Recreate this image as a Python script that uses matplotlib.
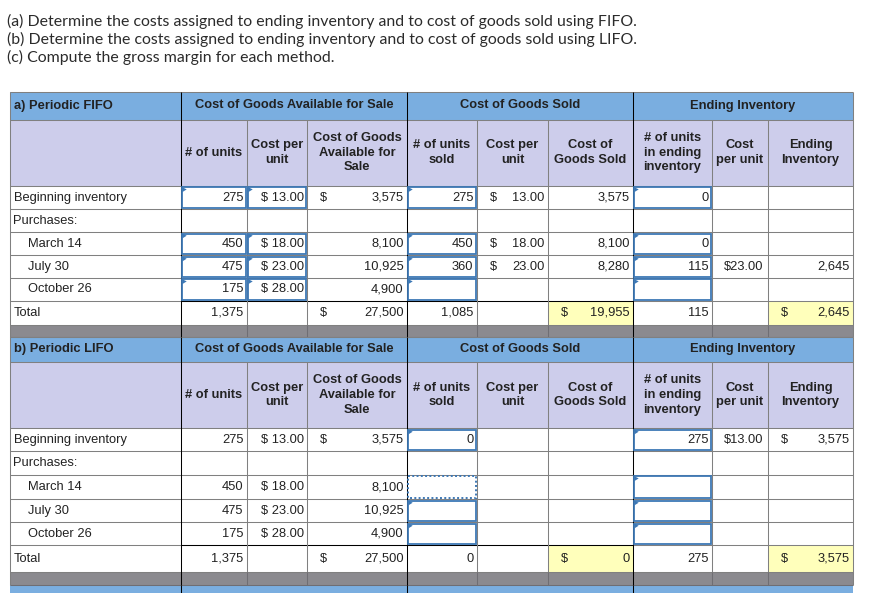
import matplotlib.pyplot as plt
from matplotlib.patches import Rectangle, Polygon

# ---- data ----
intro_lines = [
    "(a) Determine the costs assigned to ending inventory and to cost of goods sold using FIFO.",
    "(b) Determine the costs assigned to ending inventory and to cost of goods sold using LIFO.",
    "(c) Compute the gross margin for each method.",
]
row_labels = ["Beginning inventory", "Purchases:", "March 14", "July 30", "October 26", "Total"]
group_titles = ["Cost of Goods Available for Sale", "Cost of Goods Sold", "Ending Inventory"]
col_headers = ["# of units", "Cost per\nunit", "Cost of Goods\nAvailable for\nSale",
               "# of units\nsold", "Cost per\nunit", "Cost of\nGoods Sold",
               "# of units\nin ending\ninventory", "Cost\nper unit", "Ending\nInventory"]

units_available = [275, None, 450, 475, 175, 1375]
unit_cost = [13.00, None, 18.00, 23.00, 28.00, None]
goods_available = [3575, None, 8100, 10925, 4900, 27500]

fifo_units_sold = [275, None, 450, 360, None, 1085]
fifo_sold_cost = [13.00, None, 18.00, 23.00, None, None]
fifo_cogs = [3575, None, 8100, 8280, None, 19955]
fifo_end_units = [0, None, 0, 115, None, 115]
fifo_end_cost = [None, None, None, 23.00, None, None]
fifo_end_inv = [None, None, None, 2645, None, 2645]

lifo_units_sold = [0, None, None, None, None, 0]
lifo_sold_cost = [None, None, None, None, None, None]
lifo_cogs = [None, None, None, None, None, 0]
lifo_end_units = [275, None, None, None, None, 275]
lifo_end_cost = [13.00, None, None, None, None, None]
lifo_end_inv = [3575, None, None, None, None, 3575]

# ---- layout (pixels) ----
BLUE = "#7aaee0"
LAV = "#cdcdeb"
GREY_BAND = "#8b8a8f"
YELLOW = "#ffffbb"
GRID = "#808080"
BOX = "#3d78b5"
TXT = "#222222"
FS = 9.3

col_x = [9.5, 181, 247, 307, 407, 477, 548, 633, 712, 768, 853]
sections = [
    dict(title="a) Periodic FIFO", top=91.5, h1=119.5, h2=186,
         rows=[186, 209.3, 232.3, 255.3, 278, 300.7, 325], band_end=337,
         sold=(fifo_units_sold, fifo_sold_cost, fifo_cogs),
         end=(fifo_end_units, fifo_end_cost, fifo_end_inv),
         boxes={1: [0, 2, 3, 4], 2: [0, 2, 3, 4], 4: [0, 2, 3, 4], 7: [0, 2, 3, 4]},
         dotted={}, dollar4=[0, 5], dollar10=[5]),
    dict(title="b) Periodic LIFO", top=337, h1=361.7, h2=428.3,
         rows=[428.3, 451, 475, 499.3, 522.3, 545, 572.3], band_end=585,
         sold=(lifo_units_sold, lifo_sold_cost, lifo_cogs),
         end=(lifo_end_units, lifo_end_cost, lifo_end_inv),
         boxes={4: [0, 3, 4], 7: [0, 2, 3, 4]},
         dotted={4: [2]}, dollar4=[0, 5], dollar10=[0, 5]),
]

plt.rcParams["font.family"] = ["Liberation Sans", "DejaVu Sans"]
fig = plt.figure(figsize=(8.73, 5.93), dpi=100)
ax = fig.add_axes([0, 0, 1, 1])
ax.set_xlim(0, 873)
ax.set_ylim(593, 0)
ax.axis("off")

for i, line in enumerate(intro_lines):
    ax.text(7, 21.7 + 17.8 * i, line, fontsize=11.4, family=["Lato", "DejaVu Sans"],
            color="#2b2b2b", va="center", ha="left")


def hline(y, x0, x1, color=GRID, lw=0.75):
    ax.plot([x0, x1], [y, y], color=color, lw=lw, solid_capstyle="butt", zorder=3)


def vline(x, y0, y1, color=GRID, lw=0.75):
    ax.plot([x, x], [y0, y1], color=color, lw=lw, solid_capstyle="butt", zorder=3)


def fmt_int(v):
    return f"{v:,}"


def put_right(c, yc, s, pad=3.5):
    # c is the index of the data column (0 = "# of units")
    ax.text(col_x[c + 2] - pad, yc, s, ha="right", va="center", fontsize=FS, color=TXT, zorder=5)


def put_dollar(c, yc):
    ax.text(col_x[c + 1] + 13, yc, "$", ha="left", va="center", fontsize=FS, color=TXT, zorder=5)


for sec in sections:
    top, h1, h2, rows = sec["top"], sec["h1"], sec["h2"], sec["rows"]
    left, right = col_x[0], col_x[-1]
    # backgrounds
    ax.add_patch(Rectangle((left, top), right - left, h1 - top, color=BLUE, lw=0, zorder=1))
    ax.add_patch(Rectangle((left, h1), right - left, h2 - h1, color=LAV, lw=0, zorder=1))
    ax.add_patch(Rectangle((left, rows[-1]), right - left, sec["band_end"] - rows[-1],
                           color=GREY_BAND, lw=0, zorder=1))
    for c in (6, 9):
        ax.add_patch(Rectangle((col_x[c], rows[-2]), col_x[c + 1] - col_x[c], rows[-1] - rows[-2],
                               color=YELLOW, lw=0, zorder=1))

    # header texts
    ax.text(left + 4, (top + h1) / 2, sec["title"], ha="left", va="center", fontsize=FS,
            weight="bold", color=TXT, zorder=5)
    for g, title in enumerate(group_titles):
        x0, x1 = col_x[1 + 3 * g], col_x[4 + 3 * g] if g < 2 else col_x[-1]
        ax.text((x0 + x1) / 2, (top + h1) / 2, title, ha="center", va="center", fontsize=FS,
                weight="bold", color=TXT, zorder=5)
    for c, head in enumerate(col_headers):
        ax.text((col_x[c + 1] + col_x[c + 2]) / 2, (h1 + h2) / 2, head, ha="center", va="center",
                fontsize=FS, weight="bold", color=TXT, linespacing=1.3, zorder=5)

    # grid lines
    hline(top, left, right)
    hline(h1, left, right)
    for y in rows[:-1]:
        hline(y, left, right)
    hline(rows[-1], left, right)
    hline(sec["band_end"], left, right, color="#6f6e73")
    hline(rows[-2], col_x[1], col_x[7], color="black")
    for i, x in enumerate(col_x):
        if i in (1, 4, 7):
            vline(x, top, sec["band_end"], color="black")
        elif i in (0, 10):
            vline(x, top, sec["band_end"])
        else:
            vline(x, h1, rows[-1])
            vline(x, rows[-1], sec["band_end"], color="#6f6e73")

    # row labels
    for r, lab in enumerate(row_labels):
        yc = (rows[r] + rows[r + 1]) / 2
        indent = 19 if r in (2, 3, 4) else 4
        ax.text(left + indent, yc, lab, ha="left", va="center", fontsize=FS, color=TXT, zorder=5)

    # values
    sold_units, sold_cost, cogs = sec["sold"]
    end_units, end_cost, end_inv = sec["end"]
    for r in range(len(row_labels)):
        yc = (rows[r] + rows[r + 1]) / 2
        if units_available[r] is not None:
            put_right(0, yc, fmt_int(units_available[r]))
        if unit_cost[r] is not None:
            put_right(1, yc, f"$ {unit_cost[r]:.2f}", pad=3)
        if goods_available[r] is not None:
            put_right(2, yc, fmt_int(goods_available[r]))
        if r in sec["dollar4"]:
            put_dollar(2, yc)
        if sold_units[r] is not None:
            put_right(3, yc, fmt_int(sold_units[r]))
        if sold_cost[r] is not None:
            put_dollar(4, yc)
            put_right(4, yc, f"{sold_cost[r]:.2f}")
        if cogs[r] is not None:
            put_right(5, yc, fmt_int(cogs[r]))
        if r == 5:
            put_dollar(5, yc)
        if end_units[r] is not None:
            put_right(6, yc, fmt_int(end_units[r]))
        if end_cost[r] is not None:
            put_right(7, yc, f"${end_cost[r]:.2f}", pad=5)
        if end_inv[r] is not None:
            put_right(8, yc, fmt_int(end_inv[r]))
        if r in sec["dollar10"]:
            put_dollar(8, yc)

    # input boxes
    for c, rlist in sec["boxes"].items():
        for r in rlist:
            x0, y0 = col_x[c] + 1.2, rows[r] + 1.2
            w, h = col_x[c + 1] - col_x[c] - 2.4, rows[r + 1] - rows[r] - 2.4
            ax.add_patch(Rectangle((x0, y0), w, h, fill=False, ec=BOX, lw=1.3, zorder=4))
            ax.add_patch(Polygon([[x0, y0], [x0 + 4.5, y0 + 2.2], [x0, y0 + 5]],
                                 closed=True, color=BOX, lw=0, zorder=4))
    for c, rlist in sec["dotted"].items():
        for r in rlist:
            x0, y0 = col_x[c] + 1.2, rows[r] + 1.2
            w, h = col_x[c + 1] - col_x[c] - 2.4, rows[r + 1] - rows[r] - 2.4
            ax.add_patch(Rectangle((x0, y0), w, h, fill=True, fc="white", ec=BOX, lw=1.4,
                                   ls=(0, (1, 1.2)), zorder=4))

# blue band at the bottom of the picture
ax.add_patch(Rectangle((col_x[0], 585), col_x[-1] - col_x[0], 10, color=BLUE, lw=0, zorder=1))
for i in (1, 4, 7):
    vline(col_x[i], 585, 593, color="black")

fig.savefig("out.png", dpi=100)
